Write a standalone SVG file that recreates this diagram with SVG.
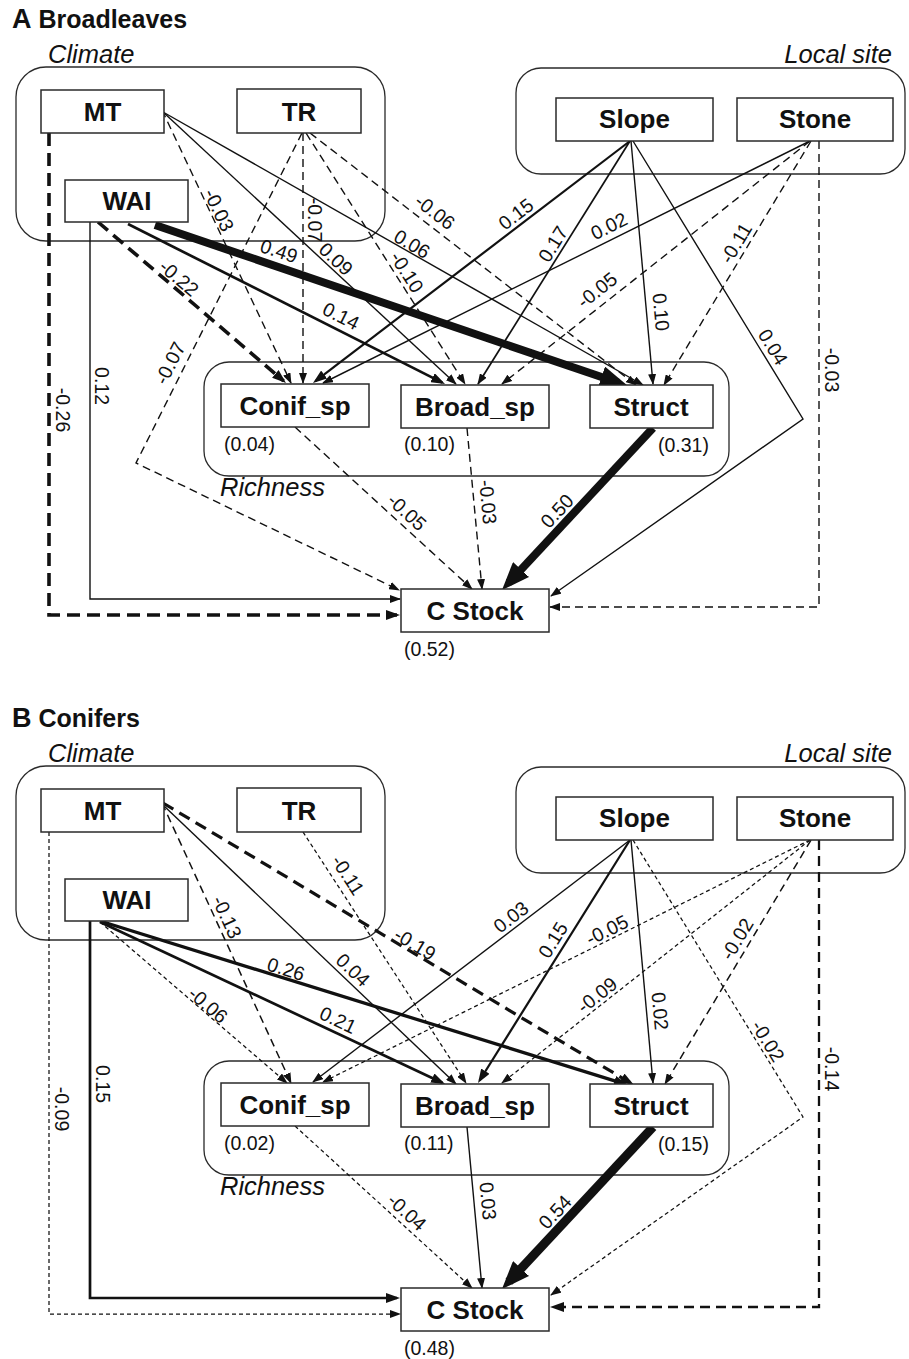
<svg xmlns="http://www.w3.org/2000/svg" width="909" height="1359" viewBox="0 0 909 1359">
<style>
.bg{fill:#fff}
.box{fill:#fff;stroke:#2a2a2a;stroke-width:1.5}
.grp{fill:none;stroke:#2a2a2a;stroke-width:1.3}
.nl{font-family:"Liberation Sans",Arial,sans-serif;font-weight:bold;font-size:26px;text-anchor:middle;fill:#111}
.gl{font-family:"Liberation Sans",Arial,sans-serif;font-style:italic;font-size:25.5px;fill:#111}
.tt{font-family:"Liberation Sans",Arial,sans-serif;font-weight:bold;font-size:25px;fill:#111}
.r2{font-family:"Liberation Sans",Arial,sans-serif;font-size:19.5px;fill:#111}
.cl{font-family:"Liberation Sans",Arial,sans-serif;font-size:19.5px;fill:#111;text-anchor:middle}
.c{fill:none;stroke:#111;stroke-width:1.4}
.c15{stroke-width:1.7}
.c2{stroke-width:2.2}
.c25{stroke-width:2.7}
.c3{stroke-width:3.3}
.c8{stroke-width:8}
.c9{stroke-width:9}
.d{stroke-dasharray:8 5}
.dT{stroke-width:3.6;stroke-dasharray:13 7}
.dT2{stroke-width:3.2;stroke-dasharray:12 7}
.ds{stroke-width:1.25;stroke-dasharray:4 3}
.dm{stroke-width:1.5;stroke-dasharray:8 5}
.dM{stroke-width:2.3;stroke-dasharray:10 6}
.ah{marker-end:url(#ah)}
.am{marker-end:url(#am)}
.ab{marker-end:url(#ab)}
</style>
<defs>
<marker id="ah" viewBox="0 0 11 8" refX="10" refY="4" markerWidth="11" markerHeight="8" markerUnits="userSpaceOnUse" orient="auto"><path d="M0,0 L11,4 L0,8 z" fill="#111"/></marker>
<marker id="am" viewBox="0 0 14 10" refX="11" refY="5" markerWidth="14" markerHeight="10" markerUnits="userSpaceOnUse" orient="auto"><path d="M0,0 L14,5 L0,10 z" fill="#111"/></marker>
<marker id="ab" viewBox="0 0 28 22" refX="18" refY="11" markerWidth="28" markerHeight="22" markerUnits="userSpaceOnUse" orient="auto"><path d="M0,0 L28,11 L0,22 z" fill="#111"/></marker>
</defs>
<rect class="bg" x="0" y="0" width="909" height="1359"/>

<!-- ================= PANEL A ================= -->
<g id="panelA">
<text class="tt" x="12" y="28"><tspan font-size="27">A</tspan> Broadleaves</text>
<g id="A-groups">
<rect class="grp" x="16" y="67" width="369" height="174" rx="30"/>
<text class="gl" x="48" y="63">Climate</text>
<rect class="grp" x="516" y="68" width="389" height="106" rx="25"/>
<text class="gl" x="892" y="63" text-anchor="end">Local site</text>
<rect class="grp" x="204" y="362" width="525" height="114" rx="25"/>
<text class="gl" x="220" y="496">Richness</text>
</g>
<g id="A-connectors">
<path class="c dT am" d="M49,133 V615 H397"/>
<path class="c ah" d="M90,222 V599 H400"/>
<path class="c dT am" d="M98,222 L283.7,381"/>
<path class="c c25 am" d="M128,224 L442.3,382.6"/>
<path class="c c8 ab" d="M155,225 L618.5,382.8"/>
<path class="c d ah" d="M162,110 L291,383"/>
<path class="c ah" d="M163,112 L456,384"/>
<path class="c ah" d="M163,112 L643,385"/>
<path class="c d ah" d="M303,133 V383"/>
<path class="c d ah" d="M302,133 L136,463 L399,590"/>
<path class="c d ah" d="M306,133 L465,384"/>
<path class="c d ah" d="M310,133 L636,385"/>
<path class="c c2 am" d="M630,141 L315.4,381.2"/>
<path class="c c15 ah" d="M630,141 L478,384"/>
<path class="c ah" d="M631,141 L653,384"/>
<path class="c ah" d="M633,141 L803,419 L551,596"/>
<path class="c ah" d="M810,141 L323,383"/>
<path class="c d ah" d="M810,141 L502,384"/>
<path class="c d ah" d="M811,141 L664,385"/>
<path class="c d ah" d="M819,141 V607 H550"/>
<path class="c d ah" d="M295,427 L472,589"/>
<path class="c d ah" d="M467,428 L482,589"/>
<path class="c c8 ab" d="M653,428 L508.8,582.7"/>
<g id="A-coef">
<text class="cl" dy=".35em" transform="translate(63,410) rotate(90)">-0.26</text>
<text class="cl" dy=".35em" transform="translate(102,386) rotate(90)">0.12</text>
<text class="cl" dy=".35em" transform="translate(179,278) rotate(40.6)">-0.22</text>
<text class="cl" dy=".35em" transform="translate(341,316) rotate(26.8)">0.14</text>
<text class="cl" dy=".35em" transform="translate(279,251) rotate(18.7)">0.49</text>
<text class="cl" dy=".35em" transform="translate(219,210) rotate(64.7)">-0.03</text>
<text class="cl" dy=".35em" transform="translate(336,259) rotate(42.9)">0.09</text>
<text class="cl" dy=".35em" transform="translate(412,244) rotate(30.7)">0.06</text>
<text class="cl" dy=".35em" transform="translate(315,220) rotate(90)">-0.07</text>
<text class="cl" dy=".35em" transform="translate(170,363) rotate(-63.2)">-0.07</text>
<text class="cl" dy=".35em" transform="translate(407,272) rotate(57.6)">-0.10</text>
<text class="cl" dy=".35em" transform="translate(435,212) rotate(37.7)">-0.06</text>
<text class="cl" dy=".35em" transform="translate(516,214) rotate(-37.4)">0.15</text>
<text class="cl" dy=".35em" transform="translate(553,244) rotate(-58)">0.17</text>
<text class="cl" dy=".35em" transform="translate(661,312) rotate(84.8)">0.10</text>
<text class="cl" dy=".35em" transform="translate(773,347) rotate(58.6)">0.04</text>
<text class="cl" dy=".35em" transform="translate(609,226) rotate(-26.4)">0.02</text>
<text class="cl" dy=".35em" transform="translate(597,290) rotate(-38.3)">-0.05</text>
<text class="cl" dy=".35em" transform="translate(736,243) rotate(-58.9)">-0.11</text>
<text class="cl" dy=".35em" transform="translate(832,370) rotate(90)">-0.03</text>
<text class="cl" dy=".35em" transform="translate(407,512) rotate(42.5)">-0.05</text>
<text class="cl" dy=".35em" transform="translate(488,502) rotate(84.7)">-0.03</text>
<text class="cl" dy=".35em" transform="translate(557,511) rotate(-47)">0.50</text>
</g>
</g>
<g id="A-MT"><rect class="box" x="41" y="90" width="123" height="43"/><text class="nl" x="102.5" y="121">MT</text></g>
<g id="A-TR"><rect class="box" x="237" y="89" width="124" height="44"/><text class="nl" x="299" y="121">TR</text></g>
<g id="A-WAI"><rect class="box" x="65" y="180" width="123" height="42"/><text class="nl" x="127" y="210">WAI</text></g>
<g id="A-Slope"><rect class="box" x="556" y="98" width="157" height="43"/><text class="nl" x="634.5" y="128">Slope</text></g>
<g id="A-Stone"><rect class="box" x="737" y="98" width="156" height="43"/><text class="nl" x="815" y="128">Stone</text></g>
<g id="A-Conif_sp"><rect class="box" x="221" y="384" width="148" height="43"/><text class="nl" x="295" y="415">Conif_sp</text><text class="r2" x="224" y="451">(0.04)</text></g>
<g id="A-Broad_sp"><rect class="box" x="401" y="385" width="148" height="43"/><text class="nl" x="475" y="416">Broad_sp</text><text class="r2" x="404" y="451">(0.10)</text></g>
<g id="A-Struct"><rect class="box" x="590" y="385" width="123" height="43"/><text class="nl" x="651" y="416">Struct</text><text class="r2" x="658" y="452">(0.31)</text></g>
<g id="A-CStock"><rect class="box" x="401" y="589" width="148" height="43"/><text class="nl" x="475" y="620">C Stock</text><text class="r2" x="404" y="656">(0.52)</text></g>
</g>

<!-- ================= PANEL B ================= -->
<g id="panelB" transform="translate(0,699)">
<text class="tt" x="12" y="28"><tspan font-size="27">B</tspan> Conifers</text>
<g id="B-groups">
<rect class="grp" x="16" y="67" width="369" height="174" rx="30"/>
<text class="gl" x="48" y="63">Climate</text>
<rect class="grp" x="516" y="68" width="389" height="106" rx="25"/>
<text class="gl" x="892" y="63" text-anchor="end">Local site</text>
<rect class="grp" x="204" y="362" width="525" height="114" rx="25"/>
<text class="gl" x="220" y="496">Richness</text>
</g>
<g id="B-connectors">
<path class="c ds ah" d="M49,133 V615 H400"/>
<path class="c c25 am" d="M90,222 V599 H397"/>
<path class="c ds ah" d="M100,223 L287,384"/>
<path class="c c25 am" d="M100,223 L442.3,383.7"/>
<path class="c c3 am" d="M100,222 L625.1,385.1"/>
<path class="c dm ah" d="M162,104 L291,384"/>
<path class="c ah" d="M163,106 L456,385"/>
<path class="c dT2 am" d="M163,104 L631.4,384.5"/>
<path class="c ds ah" d="M303,133 L466,384"/>
<path class="c ah" d="M630,141 L313,383"/>
<path class="c c2 am" d="M630,141 L479.6,381.5"/>
<path class="c ah" d="M631,141 L653,384"/>
<path class="c ds ah" d="M633,141 L803,418 L551,596"/>
<path class="c ds ah" d="M810,141 L323,383"/>
<path class="c ds ah" d="M810,141 L502,384"/>
<path class="c dm ah" d="M811,141 L665,385"/>
<path class="c dM am" d="M819,141 V608 H553"/>
<path class="c ds ah" d="M295,427 L472,589"/>
<path class="c ah" d="M467,428 L482,589"/>
<path class="c c9 ab" d="M653,428 L508.8,582.7"/>
<g id="B-coef">
<text class="cl" dy=".35em" transform="translate(62,410) rotate(90)">-0.09</text>
<text class="cl" dy=".35em" transform="translate(103,385) rotate(90)">0.15</text>
<text class="cl" dy=".35em" transform="translate(208,306) rotate(40.7)">-0.06</text>
<text class="cl" dy=".35em" transform="translate(338,321) rotate(25.2)">0.21</text>
<text class="cl" dy=".35em" transform="translate(286,270) rotate(17.3)">0.26</text>
<text class="cl" dy=".35em" transform="translate(227,218) rotate(65.3)">-0.13</text>
<text class="cl" dy=".35em" transform="translate(353,271) rotate(43.6)">0.04</text>
<text class="cl" dy=".35em" transform="translate(415,245) rotate(30.9)">-0.19</text>
<text class="cl" dy=".35em" transform="translate(348,176) rotate(57)">-0.11</text>
<text class="cl" dy=".35em" transform="translate(511,218) rotate(-37.4)">0.03</text>
<text class="cl" dy=".35em" transform="translate(553,241) rotate(-58)">0.15</text>
<text class="cl" dy=".35em" transform="translate(660,312) rotate(84.8)">0.02</text>
<text class="cl" dy=".35em" transform="translate(768,342) rotate(58.5)">-0.02</text>
<text class="cl" dy=".35em" transform="translate(607,231) rotate(-26.4)">-0.05</text>
<text class="cl" dy=".35em" transform="translate(597,296) rotate(-38.3)">-0.09</text>
<text class="cl" dy=".35em" transform="translate(737,240) rotate(-58.9)">-0.02</text>
<text class="cl" dy=".35em" transform="translate(832,370) rotate(90)">-0.14</text>
<text class="cl" dy=".35em" transform="translate(407,513) rotate(42.5)">-0.04</text>
<text class="cl" dy=".35em" transform="translate(488,502) rotate(84.7)">0.03</text>
<text class="cl" dy=".35em" transform="translate(555,513) rotate(-47)">0.54</text>
</g>
</g>
<g id="B-MT"><rect class="box" x="41" y="90" width="123" height="43"/><text class="nl" x="102.5" y="121">MT</text></g>
<g id="B-TR"><rect class="box" x="237" y="89" width="124" height="44"/><text class="nl" x="299" y="121">TR</text></g>
<g id="B-WAI"><rect class="box" x="65" y="180" width="123" height="42"/><text class="nl" x="127" y="210">WAI</text></g>
<g id="B-Slope"><rect class="box" x="556" y="98" width="157" height="43"/><text class="nl" x="634.5" y="128">Slope</text></g>
<g id="B-Stone"><rect class="box" x="737" y="98" width="156" height="43"/><text class="nl" x="815" y="128">Stone</text></g>
<g id="B-Conif_sp"><rect class="box" x="221" y="384" width="148" height="43"/><text class="nl" x="295" y="415">Conif_sp</text><text class="r2" x="224" y="451">(0.02)</text></g>
<g id="B-Broad_sp"><rect class="box" x="401" y="385" width="148" height="43"/><text class="nl" x="475" y="416">Broad_sp</text><text class="r2" x="404" y="451">(0.11)</text></g>
<g id="B-Struct"><rect class="box" x="590" y="385" width="123" height="43"/><text class="nl" x="651" y="416">Struct</text><text class="r2" x="658" y="452">(0.15)</text></g>
<g id="B-CStock"><rect class="box" x="401" y="589" width="148" height="43"/><text class="nl" x="475" y="620">C Stock</text><text class="r2" x="404" y="656">(0.48)</text></g>
</g>
</svg>
